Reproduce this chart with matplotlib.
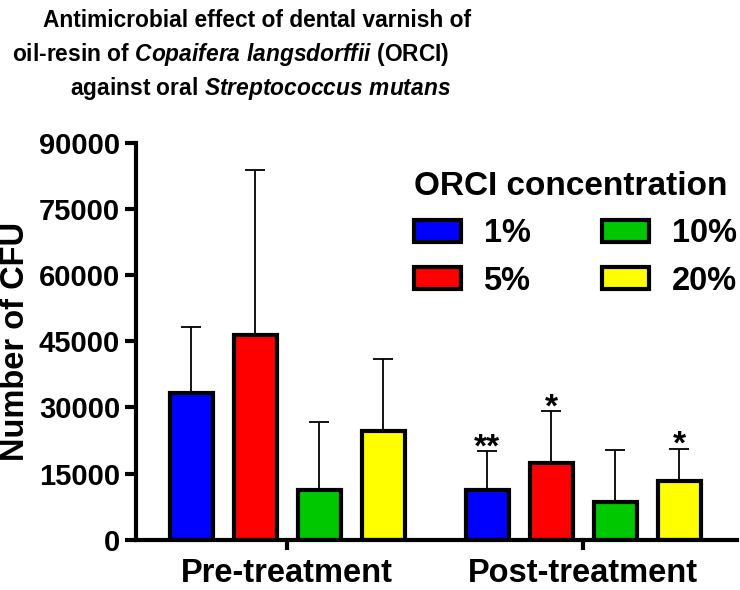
import numpy as np
import matplotlib
matplotlib.use("Agg")
from matplotlib import pyplot as plt

# dados
grupos = ['Pre-treatment', 'Post-treatment']
concentracoes = ['1%', '5%', '10%', '20%']
cores = ['#0000FF', '#FF0000', '#00C800', '#FFFF00']
media_pre = [33300, 46400, 11400, 24600]
erro_pre = [14900, 37500, 15400, 16300]
media_pos = [11400, 17500, 8500, 13300]
erro_pos = [8700, 11600, 11800, 7400]
estrelas_pos = ['**', '*', '', '*']

plt.rcParams['font.family'] = ['Liberation Sans', 'DejaVu Sans']
plt.rcParams['font.weight'] = 'bold'
plt.rcParams['mathtext.fontset'] = 'custom'
plt.rcParams['mathtext.it'] = 'Liberation Sans:italic:bold'
plt.rcParams['mathtext.rm'] = 'Liberation Sans:bold'

fig = plt.figure(figsize=(7.4, 5.9), dpi=100)
ax = fig.add_axes([0.184, 0.085, 0.812, 0.673])

centros = np.array([0, 4.625])
desloc = np.array([-1.5, -0.5, 0.5, 1.5])
largura = 0.67

medias = np.array([media_pre, media_pos])
erros = np.array([erro_pre, erro_pos])

for i, c in enumerate(concentracoes):
    x = centros + desloc[i]
    ax.errorbar(x, medias[:, i], yerr=[np.zeros(2), erros[:, i]], fmt='none',
                ecolor='black', elinewidth=1.3, capsize=7, capthick=1.3, zorder=1)
    ax.bar(x, medias[:, i], width=largura, color=cores[i], edgecolor='black',
           linewidth=3, label=c, zorder=2)
    if estrelas_pos[i]:
        # estrelas logo acima da barra de erro
        ax.text(x[1], medias[1, i] + erros[1, i] - 1200, estrelas_pos[i],
                ha='center', va='baseline', fontsize=24, fontweight='bold')

ax.set_xlim(-2.36, 7.03)
ax.set_ylim(0, 90000)
ax.set_yticks(np.arange(0, 90001, 15000))
ax.set_xticks(centros)
ax.set_xticklabels(grupos, fontsize=23.5, fontweight='bold')
ax.tick_params(axis='y', labelsize=21, width=3, length=8)
ax.tick_params(axis='x', width=3, length=7, pad=6)
for s in ['top', 'right']:
    ax.spines[s].set_visible(False)
for s in ['left', 'bottom']:
    ax.spines[s].set_linewidth(3)
ax.set_ylabel('Number of CFU', fontsize=23.5, fontweight='bold', labelpad=6)

leg = fig.legend(*ax.get_legend_handles_labels(), ncol=2, loc='upper left',
                 bbox_to_anchor=(414 / 740, 1 - 171 / 590), frameon=False,
                 borderpad=0, borderaxespad=0,
                 title='ORCI concentration', title_fontproperties={'size': 24, 'weight': 'bold'},
                 prop={'size': 23.5, 'weight': 'bold'}, handlelength=1.43, handleheight=0.66,
                 columnspacing=2.2, handletextpad=0.7, labelspacing=0.5)
leg._legend_box.align = 'left'

# titulo
fig.text(43 / 740, 0.965, 'Antimicrobial effect of dental varnish of', fontsize=16.4,
         fontweight='bold', va='center')
fig.text(12 / 740, 0.907, r'oil-resin of $\mathit{Copaifera\ langsdorffii}$ (ORCI)', fontsize=16.4,
         fontweight='bold', va='center')
fig.text(70 / 740, 0.850, r'against oral $\mathit{Streptococcus\ mutans}$', fontsize=16.4,
         fontweight='bold', va='center')

fig.savefig('out.png', dpi=100)
